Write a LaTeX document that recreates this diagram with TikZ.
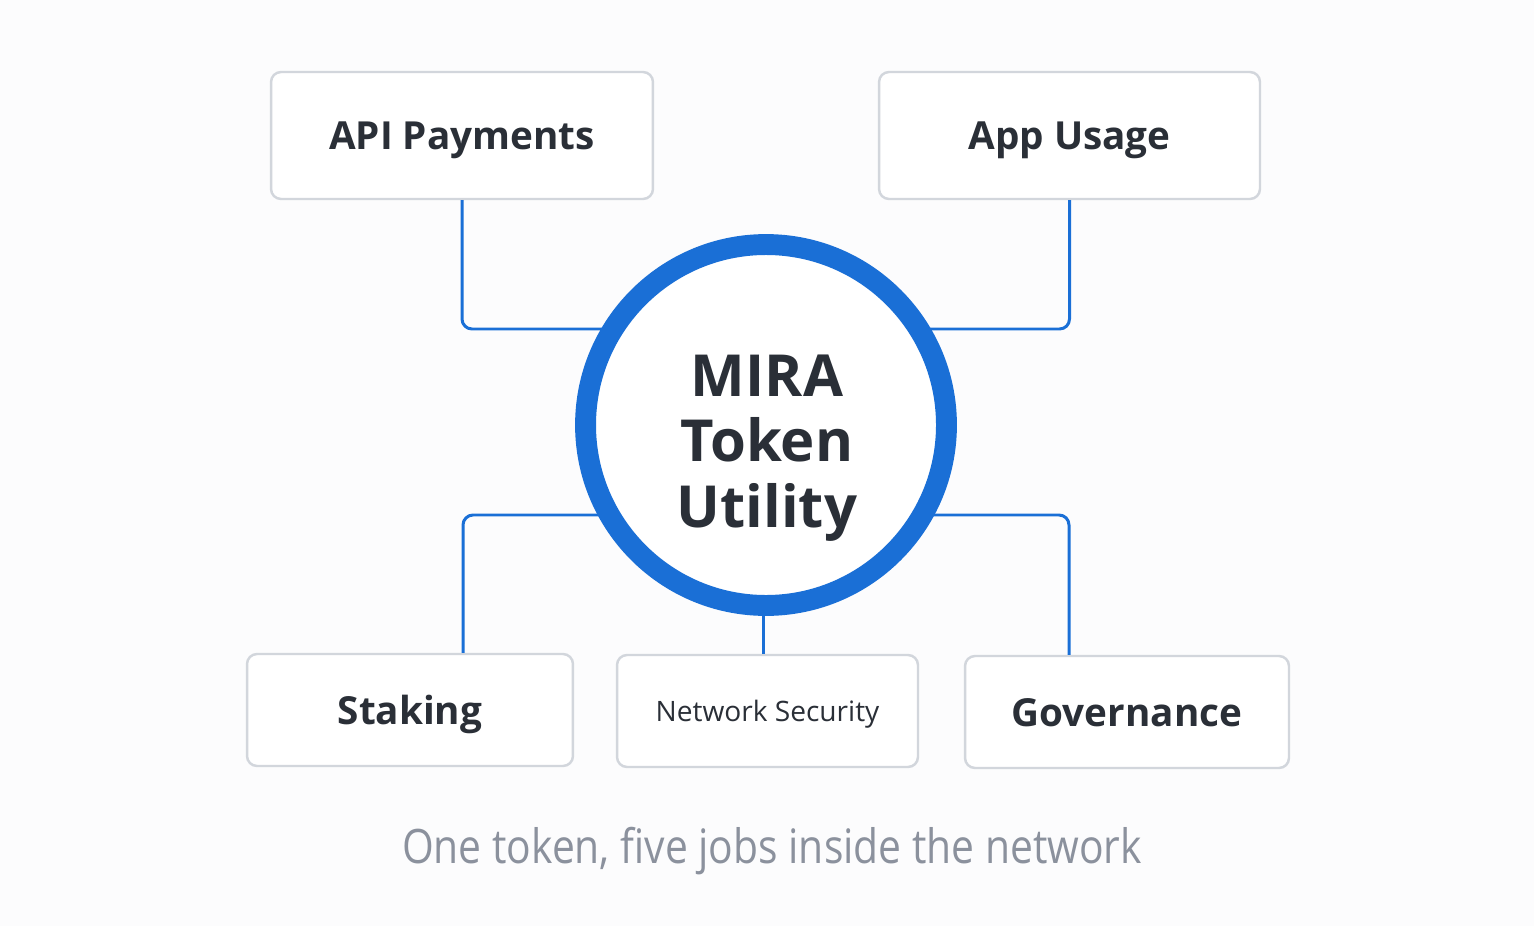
\documentclass[tikz,border=0pt]{standalone}
\usepackage{fontspec}
\usepackage{graphicx}
\setmainfont{Open Sans}
\usetikzlibrary{calc}
\definecolor{bg}{HTML}{FCFCFD}
\definecolor{ink}{HTML}{2A2F37}
\definecolor{edge}{HTML}{D2D6DC}
\definecolor{blue}{HTML}{1A6FD6}
\definecolor{cap}{HTML}{8B919D}
\tikzset{
  card/.style={draw=edge, line width=1.4pt, fill=white, rounded corners=0.2cm, inner sep=0pt, text=ink, text depth=0pt},
  conn/.style={draw=blue, line width=1.7pt, rounded corners=0.2cm},
  ring/.style={circle, draw=blue, fill=white, line width=11.9pt, minimum size=7.22cm, inner sep=0pt},
  title/.style={text=ink, align=center, inner sep=0pt, font=\bfseries\fontsize{33}{37.4}\selectfont},
}
\begin{document}
\begin{tikzpicture}[x=0.02cm, y=-0.02cm]
\fill[bg] (0,0) rectangle (1534,926);
\useasboundingbox (0,0) rectangle (1534,926);

\node[card, minimum width=7.64cm, minimum height=2.54cm, font=\bfseries\fontsize{22}{26}\selectfont] (api) at (462,135.5) {API Payments};
\node[card, minimum width=7.62cm, minimum height=2.54cm, font=\bfseries\fontsize{22}{26}\selectfont] (app) at (1069.5,135.5) {App Usage};
\node[card, minimum width=6.52cm, minimum height=2.24cm, font=\bfseries\fontsize{22}{26}\selectfont] (stk) at (410,710) {Staking};
\node[card, minimum width=6.02cm, minimum height=2.24cm, font=\fontsize{16}{19}\selectfont] (ns) at (767.5,711) {Network Security};
\node[card, minimum width=6.48cm, minimum height=2.24cm, font=\bfseries\fontsize{22}{26}\selectfont] (gov) at (1127,712) {Governance};

\coordinate (yT) at (0,329);
\coordinate (yB) at (0,515);
\coordinate (cc) at (766,425);

\draw[conn] (api.south) |- (cc |- yT);
\draw[conn] (app.south) |- (cc |- yT);
\draw[conn] ($(stk.north)+(53,0)$) |- (cc |- yB);
\draw[conn] ($(gov.north)+(-58,0)$) |- (cc |- yB);
\draw[conn] ($(ns.north)+(-4,0)$) -- ($(ns.north |- cc)+(-4,0)$);

\node[ring] (c) at (cc) {};
\node[title] (ctext) at (767,448) {MIRA\\Token\\Utility};

\node[text=cap, inner sep=0pt, font=\fontsize{27}{32}\selectfont] (caption) at (772,851) {\resizebox{14.8cm}{\height}{One token, five jobs inside the network}};
\end{tikzpicture}
\end{document}
